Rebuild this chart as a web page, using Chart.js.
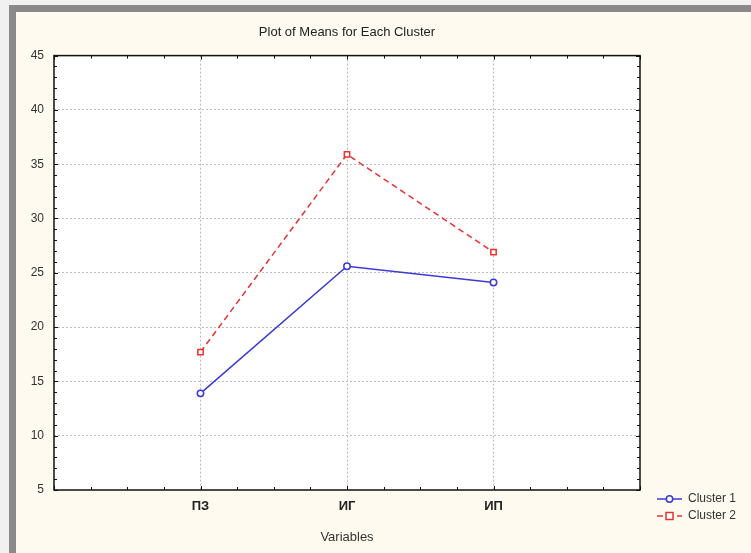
<!DOCTYPE html>
<html>
<head>
<meta charset="utf-8">
<title>Plot of Means for Each Cluster</title>
<script src="https://cdn.jsdelivr.net/npm/chart.js@4.4.1/dist/chart.umd.min.js"></script>
<style>
    html, body { margin: 0; padding: 0; background: #f1f1f1; }
    .ems-frame {
        position: absolute; left: 9px; top: 5px; right: 0; bottom: 0;
        background: #fffaf0;
        border-left: 7px solid #8a8a8a;
        border-top: 7px solid #8a8a8a;
    }
    .ems-canvas-box { position: absolute; left: 0; top: 0; width: 751px; height: 553px; }
</style>
</head>
<body>
<div class="ems-frame"></div>
<div class="ems-canvas-box"><canvas id="chartMeans"></canvas></div>
<script>
(function () {
    'use strict';

    // ── 資料 ──────────────────────────────────────────────────────────────────
    var CATEGORIES = ['ПЗ', 'ИГ', 'ИП'];
    var CLUSTER_1  = [13.9, 25.6, 24.1];
    var CLUSTER_2  = [17.7, 35.9, 26.9];
    var SERIES_NAMES = ['Cluster 1', 'Cluster 2'];
    var Y_MIN = 5, Y_MAX = 45, Y_STEP = 5;

    var FONT = "'Liberation Sans', Arial, sans-serif";
    var BLUE = '#3a3ad8';
    var RED  = '#e83232';
    var GRID = '#bdbdbd';

    function toPoints(values) {
        return values.map(function (v, i) { return { x: i + 1, y: v }; });
    }

    // ── 外框、內向刻度、白底 ──────────────────────────────────────────────────
    var framePlugin = {
        id: 'frame',
        beforeDraw: function (chart) {
            var a = chart.chartArea, ctx = chart.ctx;
            ctx.save();
            ctx.fillStyle = '#ffffff';
            ctx.fillRect(a.left, a.top, a.right - a.left, a.bottom - a.top);
            ctx.restore();
        },
        beforeDatasetsDraw: function (chart) {
            var a = chart.chartArea, ctx = chart.ctx;
            var xs = chart.scales.x, ys = chart.scales.y;
            var v, p, len;
            ctx.save();
            ctx.strokeStyle = '#111111';
            ctx.lineWidth = 1;
            ctx.beginPath();
            for (v = xs.min; v <= xs.max + 1e-9; v += 0.25) {
                p = Math.round(xs.getPixelForValue(v)) + 0.5;
                len = Math.abs(v - Math.round(v)) < 1e-9 ? 4 : 3;
                ctx.moveTo(p, a.bottom); ctx.lineTo(p, a.bottom - len);
                ctx.moveTo(p, a.top);    ctx.lineTo(p, a.top + len);
            }
            for (v = Y_MIN; v <= Y_MAX; v += 1) {
                p = Math.round(ys.getPixelForValue(v)) + 0.5;
                len = v % Y_STEP === 0 ? 4 : 3;
                ctx.moveTo(a.left, p);  ctx.lineTo(a.left + len, p);
                ctx.moveTo(a.right, p); ctx.lineTo(a.right - len, p);
            }
            ctx.stroke();
            ctx.lineWidth = 1.5;
            ctx.strokeRect(a.left, a.top, a.right - a.left, a.bottom - a.top);
            ctx.restore();
        }
    };

    // ── 圖例（線 + 標記）─────────────────────────────────────────────────────
    var legendPlugin = {
        id: 'sideLegend',
        afterDraw: function (chart) {
            var a = chart.chartArea, ctx = chart.ctx;
            ctx.save();
            ctx.font = '12px ' + FONT;
            ctx.textBaseline = 'middle';
            chart.data.datasets.forEach(function (ds, i) {
                var y = a.bottom + 9 + i * 17;
                var x0 = a.right + 17, x1 = a.right + 42, xm = (x0 + x1) / 2;
                ctx.strokeStyle = ds.borderColor;
                ctx.lineWidth = 1.5;
                ctx.setLineDash(ds.borderDash || []);
                ctx.beginPath(); ctx.moveTo(x0, y); ctx.lineTo(x1, y); ctx.stroke();
                ctx.setLineDash([]);
                ctx.fillStyle = '#ffffff';
                ctx.beginPath();
                if (ds.pointStyle === 'rect') {
                    ctx.rect(xm - 3.5, y - 3.5, 7, 7);
                } else {
                    ctx.arc(xm, y, 3.2, 0, Math.PI * 2);
                }
                ctx.fill(); ctx.stroke();
                ctx.fillStyle = '#333333';
                ctx.fillText(ds.label, x1 + 6, y);
            });
            ctx.restore();
        }
    };

    function gridColor(ctx) {
        var v = ctx.tick ? ctx.tick.value : null;
        var s = ctx.scale;
        if (v === null || v <= s.min || v >= s.max) return 'rgba(0,0,0,0)';
        return GRID;
    }

    // ── 折線圖 ────────────────────────────────────────────────────────────────
    new Chart(document.getElementById('chartMeans').getContext('2d'), {
        type: 'line',
        data: {
            datasets: [{
                label: SERIES_NAMES[0],
                data: toPoints(CLUSTER_1),
                borderColor: BLUE,
                borderWidth: 1.5,
                backgroundColor: '#ffffff',
                pointStyle: 'circle',
                pointRadius: 3.2,
                pointBorderWidth: 1.5,
                tension: 0
            }, {
                label: SERIES_NAMES[1],
                data: toPoints(CLUSTER_2),
                borderColor: RED,
                borderWidth: 1.5,
                borderDash: [6, 4],
                backgroundColor: '#ffffff',
                pointStyle: 'rect',
                pointRadius: 3.8,
                pointBorderWidth: 1.5,
                tension: 0
            }]
        },
        options: {
            responsive: true,
            maintainAspectRatio: false,
            animation: false,
            layout: { padding: { left: 0, right: 111, top: 0, bottom: 0 } },
            plugins: {
                legend: { display: false },
                tooltip: { enabled: false },
                title: {
                    display: true,
                    text: 'Plot of Means for Each Cluster',
                    fullSize: false,
                    color: '#222222',
                    font: { family: FONT, size: 13, weight: 'normal' },
                    padding: { top: 25, bottom: 15 }
                }
            },
            scales: {
                x: {
                    type: 'linear',
                    min: 0,
                    max: CATEGORIES.length + 1,
                    afterFit: function (s) { s.height = 63; },
                    afterBuildTicks: function (s) {
                        s.ticks = [];
                        for (var i = 0; i <= CATEGORIES.length + 1; i++) s.ticks.push({ value: i });
                    },
                    ticks: {
                        padding: 9,
                        color: '#222222',
                        font: { family: FONT, size: 13, weight: 'bold' },
                        callback: function (v) { return CATEGORIES[v - 1] || ''; }
                    },
                    grid: { color: gridColor, drawTicks: false, lineWidth: 1 },
                    border: { display: false, dash: [2, 2] },
                    title: {
                        display: true,
                        text: 'Variables',
                        color: '#333333',
                        font: { family: FONT, size: 13 },
                        padding: { top: 0, bottom: 8 }
                    }
                },
                y: {
                    min: Y_MIN,
                    max: Y_MAX,
                    afterFit: function (s) { s.width = 54; },
                    ticks: {
                        stepSize: Y_STEP,
                        padding: 10,
                        color: '#333333',
                        font: { family: FONT, size: 12 }
                    },
                    grid: { color: gridColor, drawTicks: false, lineWidth: 1 },
                    border: { display: false, dash: [2, 2] }
                }
            }
        },
        plugins: [framePlugin, legendPlugin]
    });
})();
</script>
</body>
</html>
